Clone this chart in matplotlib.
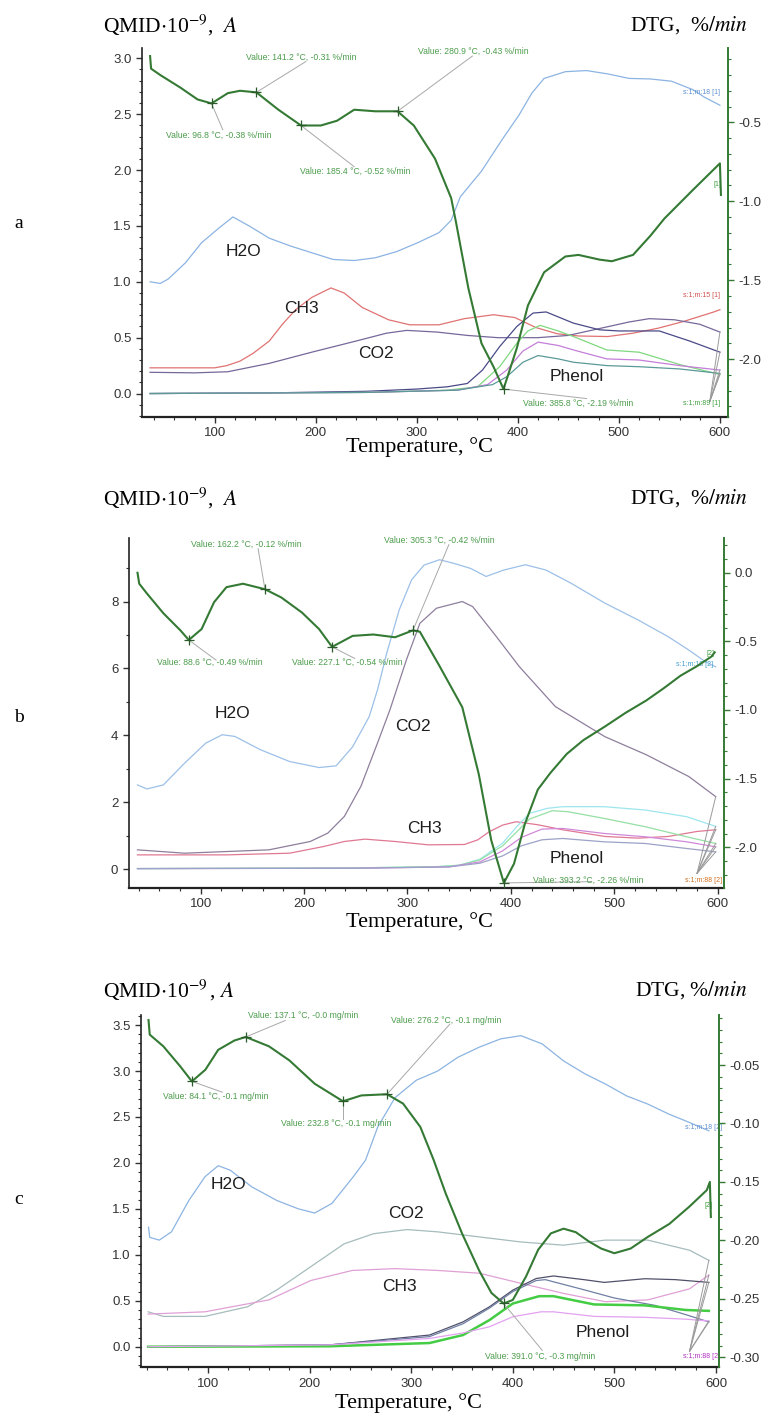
import matplotlib
matplotlib.use("Agg")
import matplotlib.pyplot as plt
from matplotlib.ticker import MultipleLocator, FormatStrFormatter

plt.rcParams["font.family"] = ["Liberation Sans", "DejaVu Sans"]
plt.rcParams["mathtext.fontset"] = "stix"
plt.rcParams["axes.unicode_minus"] = False

SERIF = ["Liberation Serif", "DejaVu Serif"]
DTG_GREEN = "#347a34"
NOTE_GREEN = "#4c9c4c"
LEADER = "#a8a8a8"

# ── panel a ──
a_t_dtg = [36, 37, 46, 66, 83, 96.8, 113, 125, 141.2, 163, 185.4, 205, 221, 238, 259, 280.9, 297, 318,
           334, 339, 351, 364, 376, 385.8, 399, 410, 426, 447, 460, 481, 493, 514, 531, 545, 573, 600, 601]
a_dtg = [-0.08, -0.16, -0.20, -0.28, -0.355, -0.38, -0.315, -0.30, -0.31, -0.42, -0.52, -0.52, -0.49, -0.42,
         -0.43, -0.43, -0.52, -0.73, -0.98, -1.14, -1.55, -1.90, -2.05, -2.19, -1.93, -1.66, -1.45, -1.35,
         -1.34, -1.37, -1.38, -1.34, -1.22, -1.11, -0.93, -0.76, -0.96]
a_t_h2o = [36, 46, 54, 71, 87, 104, 118, 134, 154, 175, 196, 217, 238, 259, 280, 301, 322, 334, 343, 364,
           385, 401, 414, 426, 447, 468, 489, 510, 531, 552, 573, 585, 600]
a_h2o = [1.0, 0.985, 1.025, 1.17, 1.35, 1.48, 1.58, 1.50, 1.39, 1.32, 1.26, 1.20, 1.19, 1.215, 1.27, 1.35,
         1.44, 1.55, 1.76, 1.99, 2.28, 2.49, 2.69, 2.82, 2.88, 2.89, 2.86, 2.82, 2.815, 2.795, 2.72, 2.65, 2.58]
a_t_ch3 = [36, 100, 112, 125, 138, 154, 167, 180, 196, 215, 228, 246, 272, 293, 322, 347, 376, 397, 418,
           439, 460, 489, 514, 539, 564, 594, 600]
a_ch3 = [0.23, 0.23, 0.25, 0.29, 0.36, 0.47, 0.62, 0.75, 0.86, 0.945, 0.90, 0.77, 0.66, 0.615, 0.615, 0.67,
         0.705, 0.68, 0.59, 0.535, 0.515, 0.51, 0.54, 0.585, 0.645, 0.73, 0.75]
a_t_co2 = [36, 80, 113, 154, 196, 240, 270, 290, 320, 350, 380, 420, 450, 480, 510, 530, 555, 580, 600]
a_co2 = [0.19, 0.185, 0.195, 0.27, 0.37, 0.47, 0.54, 0.565, 0.55, 0.52, 0.50, 0.50, 0.52, 0.58, 0.64, 0.67,
         0.66, 0.62, 0.55]
a_t_ms1 = [36, 150, 250, 300, 330, 350, 365, 382, 399, 415, 428, 455, 481, 500, 540, 570, 600]
a_ms1 = [0.0, 0.005, 0.02, 0.04, 0.06, 0.09, 0.21, 0.42, 0.60, 0.72, 0.73, 0.63, 0.57, 0.56, 0.56, 0.47, 0.37]
a_t_ms2 = [36, 250, 330, 360, 382, 399, 410, 422, 440, 455, 488, 520, 560, 600]
a_ms2 = [0.0, 0.01, 0.03, 0.06, 0.24, 0.45, 0.56, 0.61, 0.56, 0.51, 0.39, 0.37, 0.26, 0.17]
a_t_ms3 = [36, 250, 340, 370, 389, 405, 420, 440, 455, 488, 520, 560, 600]
a_ms3 = [0.0, 0.01, 0.03, 0.08, 0.21, 0.38, 0.46, 0.43, 0.39, 0.31, 0.30, 0.25, 0.21]
a_t_ms4 = [36, 250, 340, 375, 389, 405, 420, 440, 455, 488, 520, 560, 600]
a_ms4 = [0.0, 0.01, 0.03, 0.08, 0.15, 0.28, 0.34, 0.31, 0.28, 0.25, 0.24, 0.22, 0.18]
a_mark_t = [96.8, 141.2, 185.4, 280.9, 385.8]
a_mark_v = [-0.38, -0.31, -0.52, -0.43, -2.19]

# ── panel b ──
b_t_dtg = [39, 40.7, 48, 64, 80.5, 88.6, 101, 113, 125, 141, 162.2, 178, 198, 214.5, 227.1, 247, 267, 288,
           305.3, 312, 331, 353, 369, 381, 393.2, 403, 413.5, 426, 438, 454, 470, 491, 511, 531, 548, 564,
           580, 594, 597]
b_dtg = [0.0, -0.08, -0.15, -0.295, -0.42, -0.49, -0.41, -0.215, -0.105, -0.08, -0.12, -0.18, -0.29, -0.41,
         -0.54, -0.46, -0.45, -0.47, -0.42, -0.43, -0.68, -0.98, -1.47, -1.95, -2.26, -2.12, -1.83, -1.58,
         -1.46, -1.32, -1.22, -1.12, -1.02, -0.93, -0.84, -0.75, -0.68, -0.61, -0.58]
b_t_h2o = [39, 48, 64, 84.5, 105, 121, 133, 158, 186, 214.5, 231, 247, 263, 271, 280, 292, 304, 316, 331,
           345, 361, 376, 393, 414, 434, 458, 491, 523, 552, 572, 588, 598]
b_h2o = [2.52, 2.40, 2.52, 3.17, 3.77, 4.02, 3.97, 3.57, 3.22, 3.04, 3.09, 3.66, 4.56, 5.36, 6.46, 7.75,
         8.65, 9.09, 9.25, 9.14, 8.99, 8.75, 8.94, 9.1, 8.94, 8.55, 7.95, 7.45, 6.95, 6.55, 6.2, 6.05]
b_t_co2 = [39, 84.5, 166, 206, 223, 239, 255, 271, 283, 299, 312, 328, 353, 363, 386, 408, 443, 491, 531,
           572, 598]
b_co2 = [0.58, 0.48, 0.58, 0.83, 1.08, 1.58, 2.48, 3.77, 4.76, 6.26, 7.35, 7.8, 8.0, 7.85, 6.95, 6.06, 4.86,
         3.96, 3.42, 2.77, 2.17]
b_t_ch3 = [39, 125, 186, 219, 239, 259, 288, 320, 355, 368, 379, 392, 405, 426, 450, 491, 523, 552, 580, 598]
b_ch3 = [0.43, 0.43, 0.48, 0.68, 0.83, 0.90, 0.83, 0.73, 0.74, 0.88, 1.12, 1.32, 1.42, 1.33, 1.18, 0.98,
         0.93, 0.98, 1.13, 1.18]
b_t_ms1 = [39, 250, 330, 350, 370, 392, 405, 418, 435, 450, 490, 530, 570, 598]
b_ms1 = [0.02, 0.04, 0.08, 0.12, 0.30, 0.78, 1.25, 1.67, 1.82, 1.87, 1.87, 1.77, 1.57, 1.28]
b_t_ms2 = [39, 250, 330, 350, 370, 392, 405, 418, 440, 455, 490, 530, 570, 598]
b_ms2 = [0.02, 0.04, 0.08, 0.12, 0.28, 0.70, 1.10, 1.50, 1.75, 1.72, 1.52, 1.27, 0.97, 0.77]
b_t_ms3 = [39, 250, 340, 370, 392, 410, 430, 450, 490, 530, 570, 598]
b_ms3 = [0.02, 0.03, 0.07, 0.22, 0.55, 0.95, 1.20, 1.22, 1.07, 0.97, 0.82, 0.67]
b_t_ms4 = [39, 250, 340, 370, 392, 410, 430, 450, 490, 530, 570, 598]
b_ms4 = [0.02, 0.03, 0.07, 0.18, 0.40, 0.70, 0.88, 0.92, 0.82, 0.77, 0.62, 0.52]
b_mark_t = [88.6, 162.2, 227.1, 305.3, 393.2]
b_mark_v = [-0.49, -0.12, -0.54, -0.42, -2.26]

# ── panel c ──
c_t_dtg = [41.4, 42.6, 56, 72.5, 84.1, 97.4, 110, 126, 137.1, 160, 180, 205, 232.8, 251, 276.2, 292, 309,
           322, 334, 350, 367, 379, 391, 400, 413, 425, 437.5, 450, 462, 475, 487, 500, 516, 533, 554, 574,
           591, 594, 595]
c_dtg = [-0.0115, -0.024, -0.034, -0.051, -0.064, -0.054, -0.037, -0.029, -0.026, -0.034, -0.046, -0.066,
         -0.081, -0.076, -0.075, -0.083, -0.103, -0.131, -0.160, -0.194, -0.226, -0.245, -0.254, -0.251,
         -0.231, -0.208, -0.194, -0.190, -0.193, -0.201, -0.207, -0.211, -0.207, -0.197, -0.186, -0.171,
         -0.157, -0.150, -0.180]
c_t_h2o = [41.4, 42.6, 52, 64, 81, 97, 110, 122, 143, 168, 189, 205, 222, 243, 255, 267, 284, 305, 326, 346,
           367, 388, 408, 429, 450, 471, 491, 512, 533, 554, 574, 593]
c_h2o = [1.30, 1.19, 1.16, 1.25, 1.59, 1.85, 1.97, 1.92, 1.74, 1.59, 1.50, 1.455, 1.56, 1.85, 2.03, 2.39,
         2.71, 2.90, 3.0, 3.15, 3.26, 3.35, 3.385, 3.295, 3.11, 2.97, 2.86, 2.73, 2.64, 2.53, 2.44, 2.35]
c_t_co2 = [41, 56, 97, 139, 168, 201, 234, 263, 296, 326, 367, 408, 450, 491, 533, 574, 593]
c_co2 = [0.38, 0.33, 0.33, 0.435, 0.62, 0.87, 1.12, 1.23, 1.275, 1.25, 1.195, 1.14, 1.105, 1.16, 1.16, 1.05,
         0.94]
c_t_ch3 = [41, 97, 160, 201, 242, 284, 326, 367, 408, 450, 491, 533, 574, 593]
c_ch3 = [0.355, 0.38, 0.51, 0.72, 0.83, 0.85, 0.83, 0.80, 0.69, 0.58, 0.49, 0.51, 0.63, 0.78]
c_t_ms1 = [41, 220, 318, 351, 377, 400, 423, 440, 470, 490, 530, 560, 593]
c_ms1 = [0.0, 0.02, 0.127, 0.27, 0.434, 0.616, 0.742, 0.77, 0.73, 0.70, 0.74, 0.73, 0.70]
c_t_ms2 = [41, 220, 318, 351, 377, 400, 423, 432, 470, 500, 540, 570, 593]
c_ms2 = [0.0, 0.02, 0.11, 0.25, 0.42, 0.60, 0.72, 0.73, 0.62, 0.53, 0.45, 0.35, 0.27]
c_t_ms3 = [41, 220, 318, 351, 377, 400, 426, 440, 480, 530, 570, 593]
c_ms3 = [0.0, 0.005, 0.04, 0.127, 0.29, 0.47, 0.55, 0.55, 0.46, 0.45, 0.40, 0.39]
c_t_ms4 = [41, 220, 318, 351, 377, 400, 428, 440, 480, 530, 570, 593]
c_ms4 = [0.0, 0.02, 0.09, 0.15, 0.217, 0.326, 0.38, 0.38, 0.33, 0.32, 0.30, 0.28]
c_mark_t = [84.1, 137.1, 232.8, 276.2, 391.0]
c_mark_v = [-0.064, -0.026, -0.081, -0.075, -0.254]
c_mark_mg = [-0.1, -0.0, -0.1, -0.1, -0.3]

fig = plt.figure(figsize=(7.61, 14.14), dpi=100)
W, H = 761.0, 1414.0


def px_rect(left, right, top, bottom):
    return [left / W, 1 - bottom / H, (right - left) / W, (bottom - top) / H]


def make_axes(rect, xlim, ylim, ylim2, ystep, yminor, y2step, y2minor, yfmt, y2fmt):
    ax = fig.add_axes(rect)
    ax2 = ax.twinx()
    ax.set_xlim(*xlim)
    ax.set_ylim(*ylim)
    ax2.set_ylim(*ylim2)
    ax.xaxis.set_major_locator(MultipleLocator(100))
    ax.xaxis.set_minor_locator(MultipleLocator(20))
    ax.yaxis.set_major_locator(MultipleLocator(ystep))
    ax.yaxis.set_minor_locator(MultipleLocator(yminor))
    ax2.yaxis.set_major_locator(MultipleLocator(y2step))
    ax2.yaxis.set_minor_locator(MultipleLocator(y2minor))
    ax.yaxis.set_major_formatter(FormatStrFormatter(yfmt))
    ax2.yaxis.set_major_formatter(FormatStrFormatter(y2fmt))
    for s in ("top", "right"):
        ax.spines[s].set_visible(False)
    for s in ("top", "left", "bottom"):
        ax2.spines[s].set_visible(False)
    ax.spines["left"].set_color("#222222")
    ax.spines["left"].set_linewidth(1.2)
    ax.spines["bottom"].set_color("#222222")
    ax.spines["bottom"].set_linewidth(1.6)
    ax2.spines["right"].set_color(DTG_GREEN)
    ax2.spines["right"].set_linewidth(1.4)
    ax.tick_params(which="major", direction="out", length=4, width=1, colors="#333333", labelsize=9.5)
    ax.tick_params(which="minor", direction="out", length=2, width=0.8, colors="#333333")
    ax2.tick_params(which="major", direction="out", length=4, width=1, color=DTG_GREEN,
                    labelcolor="#333333", labelsize=9.5)
    ax2.tick_params(which="minor", direction="out", length=2, width=0.8, color=DTG_GREEN)
    return ax, ax2


def to_right(ax, ax2, y):
    l0, l1 = ax.get_ylim()
    r0, r1 = ax2.get_ylim()
    return r0 + (y - l0) * (r1 - r0) / (l1 - l0)


def notes(ax, ax2, temps, vals, labels, text_pos, lead_pos):
    for t, v, s, (tx, ty), (lx, ly) in zip(temps, vals, labels, text_pos, lead_pos):
        ax2.plot([t, lx], [v, to_right(ax, ax2, ly)], color=LEADER, lw=0.7, zorder=3)
        ax2.plot(t, v, marker="+", color="#2a5a2a", ms=7, mew=0.9, zorder=5)
        ax2.text(tx, to_right(ax, ax2, ty), s, fontsize=6.2, color=NOTE_GREEN, va="center", ha="left",
                 zorder=6)


def converge(ax, ends, point, color="#9a9a9a"):
    for t, v in ends:
        ax.plot([t, point[0]], [v, point[1]], color=color, lw=0.7)


def headers(top_y, bottom_y, letter_y, letter, xlab_x, qmid_label, dtg_label):
    fig.text(103 / W, 1 - top_y / H, qmid_label, fontfamily=SERIF,
             fontsize=15.5, va="center", ha="left")
    fig.text(748 / W, 1 - top_y / H, dtg_label, fontfamily=SERIF, fontsize=15.5, va="center", ha="right")
    fig.text(xlab_x / W, 1 - bottom_y / H, "Temperature, °C", fontfamily=SERIF, fontsize=16,
             va="center", ha="center")
    fig.text(14 / W, 1 - letter_y / H, letter, fontfamily=SERIF, fontsize=14, va="center", ha="left")


def curve_label(ax, x, y, s):
    ax.text(x, y, s, fontsize=12.5, color="#1e1e1e", ha="center", va="center")


QMID = r"QMID$\cdot$10$^{-9}$,  $\mathit{A}$"
QMID_C = r"QMID$\cdot$10$^{-9}$$\,$, $\mathit{A}$"

# ── Panel a ──
ax, ax2 = make_axes(px_rect(142, 728, 48, 417), (28, 608), (-0.21, 3.092), (-2.367, -0.029),
                    0.5, 0.1, 0.5, 0.1, "%.1f", "%.1f")
ax.plot(a_t_h2o, a_h2o, color="#8cb4e2", lw=0.9)
ax.plot(a_t_ch3, a_ch3, color="#e07272", lw=0.9)
ax.plot(a_t_co2, a_co2, color="#76689a", lw=0.9)
ax.plot(a_t_ms1, a_ms1, color="#4a4a88", lw=0.9)
ax.plot(a_t_ms2, a_ms2, color="#80d880", lw=0.9)
ax.plot(a_t_ms3, a_ms3, color="#c47ed8", lw=0.9)
ax.plot(a_t_ms4, a_ms4, color="#5a9a98", lw=0.9)
converge(ax, [(a_t_co2[-1], a_co2[-1]), (a_t_ms1[-1], a_ms1[-1]), (a_t_ms2[-1], a_ms2[-1]),
              (a_t_ms3[-1], a_ms3[-1]), (a_t_ms4[-1], a_ms4[-1])], (590, -0.07))
ax.text(563, 2.68, "s:1;m:18 [1]", fontsize=5, color="#5b8fd0")
ax.text(563, 0.86, "s:1;m:15 [1]", fontsize=5, color="#d05050")
ax.text(563, -0.1, "s:1;m:89 [1]", fontsize=5, color="#40a040")
ax.text(594, 1.86, "[1]", fontsize=5, color="#40a040")
curve_label(ax, 128, 1.27, "H2O")
curve_label(ax, 186, 0.76, "CH3")
curve_label(ax, 260, 0.36, "CO2")
curve_label(ax, 458, 0.15, "Phenol")
ax2.plot(a_t_dtg, a_dtg, color=DTG_GREEN, lw=1.5, zorder=4)
notes(ax, ax2, a_mark_t, a_mark_v,
      [f"Value: {t:.1f} °C, {v:.2f} %/min" for t, v in zip(a_mark_t, a_mark_v)],
      [(52, 2.31), (131, 3.01), (184, 1.985), (301, 3.06), (405, -0.09)],
      [(108, 2.36), (190, 2.97), (238, 2.03), (355, 3.02), (468, -0.045)])
headers(25, 447, 224, "a", 420, QMID, r"DTG,  %$\mathit{/min}$")

# ── Panel b ──
ax, ax2 = make_axes(px_rect(128.7, 724, 538.3, 888), (30.5, 606), (-0.56, 9.89), (-2.297, 0.251),
                    2, 1, 0.5, 0.1, "%d", "%.1f")
ax.plot(b_t_h2o, b_h2o, color="#9cc0e8", lw=0.9)
ax.plot(b_t_co2, b_co2, color="#8e7e9c", lw=0.9)
ax.plot(b_t_ch3, b_ch3, color="#e07894", lw=0.9)
ax.plot(b_t_ms1, b_ms1, color="#9ee6ee", lw=0.9)
ax.plot(b_t_ms2, b_ms2, color="#94e0a4", lw=0.9)
ax.plot(b_t_ms3, b_ms3, color="#d088d8", lw=0.9)
ax.plot(b_t_ms4, b_ms4, color="#9ca2c8", lw=0.9)
converge(ax, [(b_t_co2[-1], b_co2[-1]), (b_t_ch3[-1], b_ch3[-1]), (b_t_ms1[-1], b_ms1[-1]),
              (b_t_ms2[-1], b_ms2[-1]), (b_t_ms3[-1], b_ms3[-1]), (b_t_ms4[-1], b_ms4[-1])], (580, -0.12))
ax.text(560, 6.06, "s:1;m:18 [2]", fontsize=5, color="#40a0d0")
ax.text(589, 6.4, "[2]", fontsize=5, color="#40a040")
ax.text(568, -0.33, "s:1;m:88 [2]", fontsize=5, color="#d07020", va="center")
curve_label(ax, 131, 4.66, "H2O")
curve_label(ax, 305, 4.26, "CO2")
curve_label(ax, 316, 1.23, "CH3")
curve_label(ax, 464, 0.33, "Phenol")
ax2.plot(b_t_dtg, b_dtg, color=DTG_GREEN, lw=1.5, zorder=4)
notes(ax, ax2, b_mark_t, b_mark_v,
      [f"Value: {t:.1f} °C, {v:.2f} %/min" for t, v in zip(b_mark_t, b_mark_v)],
      [(58, 6.19), (90.6, 9.7), (188, 6.19), (277.5, 9.84), (421.7, -0.33)],
      [(115, 6.25), (155.6, 9.58), (249, 6.30), (340, 9.7), (478, -0.37)])
headers(498, 922, 718, "b", 420, QMID, r"DTG,  %$\mathit{/min}$")

# ── Panel c ──
ax, ax2 = make_axes(px_rect(141, 719, 1015, 1367.3), (34, 603), (-0.224, 3.61), (-0.3086, -0.0072),
                    0.5, 0.1, 0.05, 0.01, "%.1f", "%.2f")
ax.plot(c_t_h2o, c_h2o, color="#8cb4e2", lw=0.9)
ax.plot(c_t_co2, c_co2, color="#a6bcbc", lw=0.9)
ax.plot(c_t_ch3, c_ch3, color="#e0a0d6", lw=0.9)
ax.plot(c_t_ms1, c_ms1, color="#50506a", lw=0.9)
ax.plot(c_t_ms2, c_ms2, color="#7080a4", lw=0.9)
ax.plot(c_t_ms3, c_ms3, color="#44cc44", lw=1.8)
ax.plot(c_t_ms4, c_ms4, color="#e2a2f0", lw=0.9)
converge(ax, [(c_t_co2[-1], c_co2[-1]), (c_t_ch3[-1], c_ch3[-1]), (c_t_ms1[-1], c_ms1[-1]),
              (c_t_ms2[-1], c_ms2[-1]), (c_t_ms4[-1], c_ms4[-1])], (574, -0.05))
ax.text(570, 2.37, "s:1;m:18 [2]", fontsize=5, color="#5b8fd0")
ax.text(589, 1.52, "[2]", fontsize=5, color="#40a040")
ax.text(568, -0.11, "s:1;m:88 [2]", fontsize=5, color="#b030c0", va="center")
curve_label(ax, 120, 1.76, "H2O")
curve_label(ax, 295, 1.45, "CO2")
curve_label(ax, 288, 0.65, "CH3")
curve_label(ax, 489, 0.16, "Phenol")
ax2.plot(c_t_dtg, c_dtg, color=DTG_GREEN, lw=1.5, zorder=4)
notes(ax, ax2, c_mark_t, c_mark_v,
      [f"Value: {t:.1f} °C, {m:.1f} mg/min" for t, m in zip(c_mark_t, c_mark_mg)],
      [(56, 2.72), (139, 3.60), (172, 2.43), (280, 3.555), (373, -0.109)],
      [(114, 2.77), (176, 3.55), (232.8, 2.48), (338, 3.51), (429, -0.04)])
headers(990, 1403, 1200, "c", 409, QMID_C, r"DTG, %$\mathit{/min}$")

fig.savefig("out.png", dpi=100)
